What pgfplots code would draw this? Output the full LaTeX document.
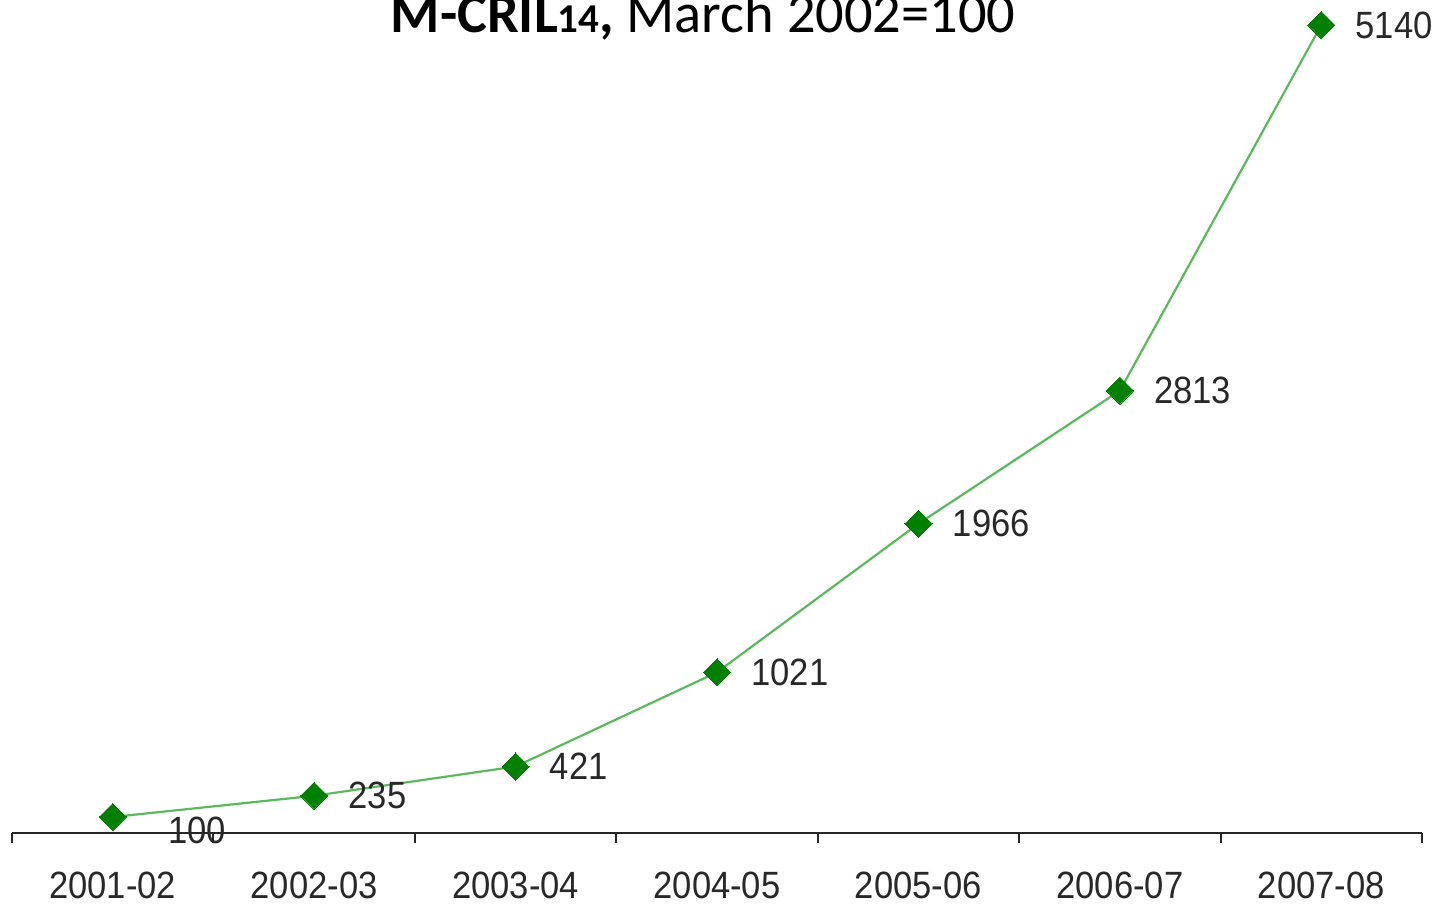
\documentclass[border=0pt]{standalone}
\usepackage{fontspec}
\usepackage{pgfplots}
\pgfplotsset{compat=1.18}
\setmainfont{Liberation Sans}
\newfontfamily\tickfont[FakeStretch=0.91]{Liberation Sans}
\newfontfamily\titlefont{Carlito}
\definecolor{mkgreen}{RGB}{0,128,0}
\definecolor{lngreen}{RGB}{90,185,90}
\definecolor{txtgrey}{RGB}{40,40,40}
\begin{document}
\begin{tikzpicture}
\useasboundingbox (-6pt,-35.65pt) rectangle (714pt,416.35pt);
\begin{axis}[
  scale only axis, width=705pt, height=416.4pt,
  xmin=-0.5, xmax=6.5, ymin=0, ymax=5300,
  axis x line*=bottom, axis y line=none,
  x axis line style={line width=1pt, draw=black!85},
  xtick={0,...,6},
  xticklabels={2001-02,2002-03,2003-04,2004-05,2005-06,2006-07,2007-08},
  major tick length=0pt,
  minor xtick={-0.5,0.5,...,6.5},
  minor tick length=5pt,
  xtick align=outside,
  tick style={line width=1pt, draw=black!85},
  xticklabel style={font=\tickfont\fontsize{19}{19}\selectfont, text=txtgrey, anchor=base, yshift=-33pt, inner sep=0pt},
  ytick=\empty,
  clip=false,
]
\addplot[color=lngreen, line width=1.1pt, mark=square*, mark size=4.8pt,
  mark options={rotate=45, fill=mkgreen, draw=mkgreen, line width=0pt}]
  coordinates {(0,100)(1,235)(2,421)(3,1021)(4,1966)(5,2813)(6,5140)};
\addplot[draw=none, mark=none, nodes near coords, point meta=explicit symbolic,
  every node near coord/.append style={anchor=west, xshift=17pt, inner sep=0pt,
  font=\tickfont\fontsize{19}{19}\selectfont, text=txtgrey}]
  coordinates {(1,235)[235](2,421)[421](3,1021)[1021](4,1966)[1966](5,2813)[2813](6,5140)[5140]};
\addplot[draw=none, mark=none, nodes near coords, point meta=explicit symbolic,
  every node near coord/.append style={anchor=west, xshift=27.5pt, yshift=-6.5pt, inner sep=0pt,
  font=\tickfont\fontsize{19}{19}\selectfont, text=txtgrey}]
  coordinates {(0,100)[100]};
\end{axis}
\node[anchor=base, inner sep=0pt, font=\titlefont\fontsize{28.2}{28.2}\selectfont] at (345.5pt,399.85pt)
  {\textbf{M-CRIL{\fontsize{20.5}{20.5}\selectfont 14},} March 2002=100};
\end{tikzpicture}
\end{document}
